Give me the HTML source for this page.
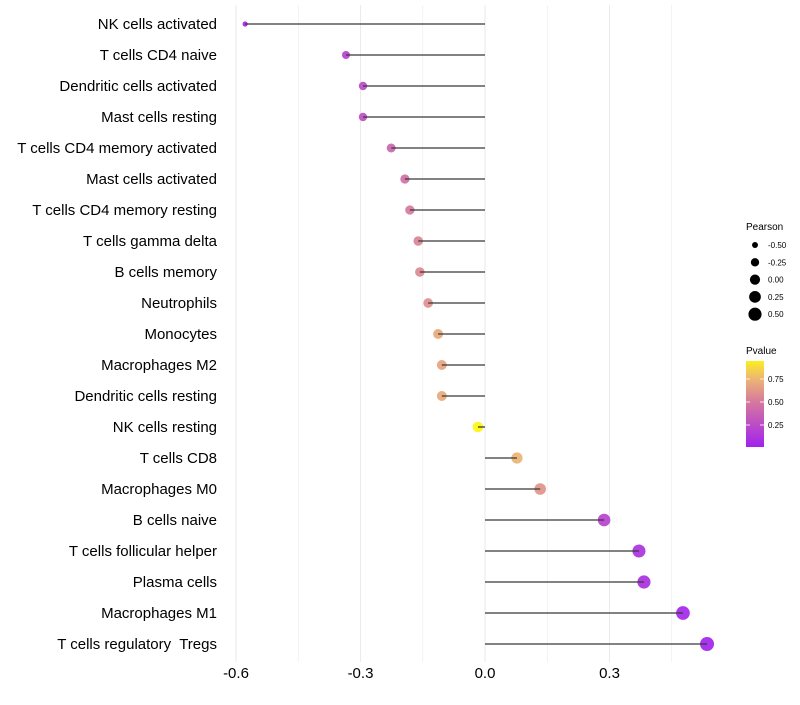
<!DOCTYPE html>
<html><head><meta charset="utf-8"><style>
body{margin:0;background:#fff;font-family:"Liberation Sans",sans-serif}
</style></head><body>
<svg id="chart" width="800" height="700" xmlns="http://www.w3.org/2000/svg"></svg>
<script>
const categories=["NK cells activated","T cells CD4 naive","Dendritic cells activated","Mast cells resting","T cells CD4 memory activated","Mast cells activated","T cells CD4 memory resting","T cells gamma delta","B cells memory","Neutrophils","Monocytes","Macrophages M2","Dendritic cells resting","NK cells resting","T cells CD8","Macrophages M0","B cells naive","T cells follicular helper","Plasma cells","Macrophages M1","T cells regulatory  Tregs"];
const pearson=[-0.578,-0.335,-0.294,-0.294,-0.226,-0.193,-0.181,-0.161,-0.157,-0.137,-0.113,-0.104,-0.104,-0.017,0.077,0.133,0.287,0.371,0.383,0.477,0.535];
const pvalue=[0.02,0.2,0.25,0.27,0.4,0.45,0.5,0.55,0.57,0.6,0.7,0.68,0.7,0.97,0.75,0.62,0.2,0.1,0.09,0.04,0.02];
const xTicks=[-0.6,-0.3,0.0,0.3];
const xTickLabels=["-0.6","-0.3","0.0","0.3"];
const sizeLegend=[-0.5,-0.25,0,0.25,0.5];
const sizeLegendLabels=["-0.50","-0.25","0.00","0.25","0.50"];
const pLegend=[0.25,0.5,0.75];

const svg=document.getElementById('chart');
const NS='http://www.w3.org/2000/svg';
function xs(v){return 485+v*415;}
function ys(i){return 24+i*31;}
function rs(v){return Math.sqrt(Math.max(2.5,28.7+37.9*v));}
function lerp(a,b,t){return a+(b-a)*t;}
function col(p){
  const stops=[[0,[160,32,240]],[0.5,[214,120,158]],[0.8,[240,192,106]],[1,[255,255,0]]];
  for(let i=0;i<stops.length-1;i++){const [p0,c0]=stops[i],[p1,c1]=stops[i+1];
    if(p<=p1){const t=(p-p0)/(p1-p0);return `rgb(${Math.round(lerp(c0[0],c1[0],t))},${Math.round(lerp(c0[1],c1[1],t))},${Math.round(lerp(c0[2],c1[2],t))})`;}}
  return 'rgb(255,255,0)';
}
function el(t,a,txt){const e=document.createElementNS(NS,t);for(const k in a)e.setAttribute(k,a[k]);if(txt!==undefined)e.textContent=txt;svg.appendChild(e);return e;}
[-0.6,-0.45,-0.3,-0.15,0,0.15,0.3,0.45].forEach(v=>{
  const g=el('line',{x1:xs(v),x2:xs(v),y1:5,y2:662,stroke:'#ebebeb','stroke-width':Math.abs(v*100%30)<1?1.1:0.6});
  
  
});
categories.forEach((c,i)=>{
  const t=el('text',{x:217,y:ys(i)+5,'text-anchor':'end','font-size':15,fill:'#000',style:'white-space:pre'},c);
  
  
  const v=pearson[i];
  const p=el('circle',{cx:xs(v),cy:ys(i),r:rs(v),fill:col(pvalue[i]),'fill-opacity':0.92});
  
  
  const l=el('line',{x1:xs(0),x2:xs(v),y1:ys(i),y2:ys(i),stroke:'#383838','stroke-width':1.3});
  
  
});
xTicks.forEach((v,i)=>{
  const t=el('text',{x:xs(v),y:678,'text-anchor':'middle','font-size':15,fill:'#000'},xTickLabels[i]);
  
  
});
const lt=el('text',{x:746,y:230,'font-size':10,fill:'#000'},'Pearson');


sizeLegend.forEach((v,i)=>{
  const y=245+i*17.3;
  const c=el('circle',{cx:755,cy:y,r:rs(v)*0.95,fill:'#000'});
  
  
  const t=el('text',{x:768,y:y+3,'font-size':8,fill:'#000'},sizeLegendLabels[i]);
  
  
});
const pt=el('text',{x:746,y:354,'font-size':10,fill:'#000'},'Pvalue');


const defs=el('defs',{});
const lg=document.createElementNS(NS,'linearGradient');lg.setAttribute('id','pg');lg.setAttribute('x1','0');lg.setAttribute('x2','0');lg.setAttribute('y1','1');lg.setAttribute('y2','0');defs.appendChild(lg);
for(let k=0;k<=10;k++){const s=document.createElementNS(NS,'stop');const p=0.01+k*0.094;s.setAttribute('offset',k/10);s.setAttribute('stop-color',col(p));lg.appendChild(s);}
const bar=el('rect',{x:746,y:361,width:18,height:86,fill:'url(#pg)'});


pLegend.forEach(p=>{
  const y=448-p*92;
  el('line',{x1:746,x2:750,y1:y,y2:y,stroke:'#fff','stroke-width':0.8});
  el('line',{x1:760,x2:764,y1:y,y2:y,stroke:'#fff','stroke-width':0.8});
  const t=el('text',{x:768,y:y+3,'font-size':8,fill:'#000'},p.toFixed(2));
  
  
});
</script>
</body></html>
